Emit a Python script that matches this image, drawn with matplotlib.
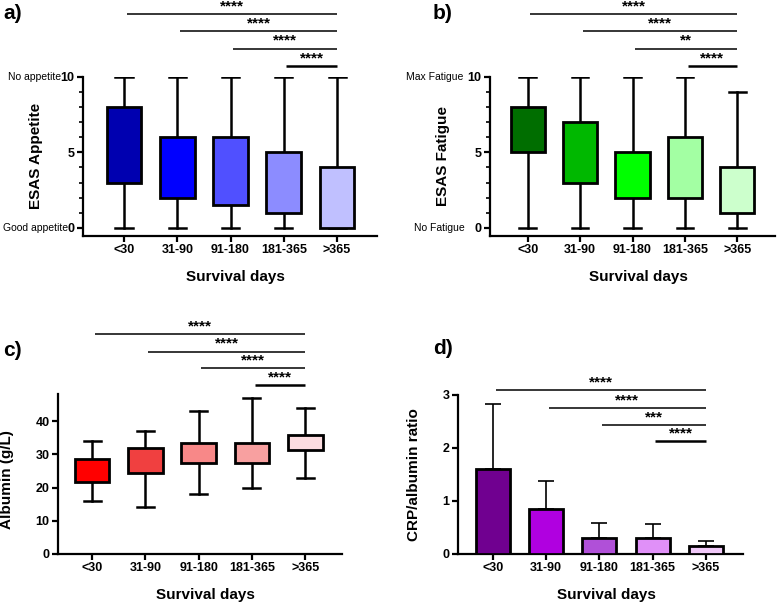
import matplotlib
matplotlib.use("Agg")
import matplotlib.pyplot as plt

plt.rcParams["font.family"] = ["Liberation Sans", "DejaVu Sans"]

groups = ["<30", "31-90", "91-180", "181-365", ">365"]

# a) ESAS appetite (min, q1, median, q3, max)
app_lo = [0, 0, 0, 0, 0]
app_q1 = [3, 2, 1.5, 1, 0]
app_med = [5, 4, 3, 3, 1]
app_q3 = [8, 6, 6, 5, 4]
app_hi = [10, 10, 10, 10, 10]
app_sig = ["****", "****", "****", "****"]   # <30, 31-90, 91-180, 181-365 vs >365
app_colors = ["#0000b0", "#0000ff", "#5050ff", "#8c8cff", "#c0c0ff"]

# b) ESAS fatigue
fat_lo = [0, 0, 0, 0, 0]
fat_q1 = [5, 3, 2, 2, 1]
fat_med = [6, 5, 4, 4, 2]
fat_q3 = [8, 7, 5, 6, 4]
fat_hi = [10, 10, 10, 10, 9]
fat_sig = ["****", "****", "**", "****"]
fat_colors = ["#006e00", "#00b800", "#00ff00", "#a3ffa3", "#ccffcc"]

# c) albumin (g/L)
alb_lo = [16, 14, 18, 20, 23]
alb_q1 = [21.8, 24.3, 27.3, 27.5, 31.3]
alb_med = [24, 27, 30, 31, 34]
alb_q3 = [28.7, 31.8, 33.3, 33.5, 35.8]
alb_hi = [34, 37, 43, 47, 44]
alb_sig = ["****", "****", "****", "****"]
alb_colors = ["#ff0000", "#f04040", "#f88888", "#f8a0a0", "#fcdce0"]

# d) CRP/albumin ratio (mean, SD)
crp_mean = [1.60, 0.84, 0.30, 0.31, 0.16]
crp_sd = [1.22, 0.53, 0.29, 0.25, 0.08]
crp_sig = ["****", "****", "***", "****"]
crp_colors = ["#700090", "#b000e0", "#b050d8", "#e090f8", "#f0c8f8"]

W, H = 777, 604
fig = plt.figure(figsize=(W / 100, H / 100), dpi=100)


def px_axes(x0, x1, y_top, y_bot):
    return fig.add_axes([x0 / W, 1 - y_bot / H, (x1 - x0) / W, (y_bot - y_top) / H])


def style(ax, ylabel, label_x, label_y=0.5, xlab_x=0.52):
    for s in ["top", "right"]:
        ax.spines[s].set_visible(False)
    for s in ["left", "bottom"]:
        ax.spines[s].set_linewidth(1.6)
    ax.tick_params(width=1.6, length=4.5, labelsize=9, pad=1.5)
    ax.set_xticks(range(len(groups)))
    ax.set_xticklabels(groups, fontweight="bold")
    for t in ax.get_yticklabels():
        t.set_fontweight("bold")
    ax.set_xlabel("Survival days", fontsize=11, fontweight="bold")
    ax.set_ylabel(ylabel, fontsize=11, fontweight="bold")
    ax.xaxis.set_label_coords(xlab_x, -0.215)
    ax.yaxis.set_label_coords(label_x, label_y)


def boxes(ax, lo, q1, med, q3, hi, colors):
    stats = [dict(whislo=a, q1=b, med=c, q3=d, whishi=e, fliers=[])
             for a, b, c, d, e in zip(lo, q1, med, q3, hi)]
    bp = ax.bxp(stats, positions=range(len(stats)), widths=0.65, capwidths=0.32,
                patch_artist=True, showfliers=False,
                boxprops=dict(linewidth=2.0, edgecolor="black"),
                medianprops=dict(color="black", linewidth=2.0),
                whiskerprops=dict(color="black", linewidth=1.8),
                capprops=dict(color="black", linewidth=1.8))
    for patch, c in zip(bp["boxes"], colors):
        patch.set_facecolor(c)
        patch.set_zorder(3)


def sig_bars(ax, labels, ys):
    last = len(groups) - 1
    for i, (lab, y) in enumerate(zip(labels, ys)):
        x0 = i + 0.05
        lw = 1.8 if i == len(labels) - 1 else 1.1
        ax.plot([x0, last], [y, y], color="black", lw=lw, clip_on=False,
                solid_capstyle="butt")
        ax.annotate(lab, xy=((x0 + last) / 2, y), xytext=(0, 2.8),
                    textcoords="offset points", ha="center", va="baseline",
                    fontsize=11, fontweight="bold", annotation_clip=False)


# ---- a) appetite
ax = px_axes(83, 377, 76.7, 236)
boxes(ax, app_lo, app_q1, app_med, app_q3, app_hi, app_colors)
ax.set_xlim(-0.77, 4.75)
ax.set_ylim(-0.53, 10)
ax.set_yticks([0, 5, 10])
ax.set_yticks(range(11), minor=True)
ax.tick_params(axis="y", which="minor", length=3, width=1.2)
style(ax, "ESAS Appetite", -0.135)
sig_bars(ax, app_sig, [14.15, 13.0, 11.85, 10.7])
ax.annotate("No appetite", xy=(0, 10), xycoords=("axes fraction", "data"),
            xytext=(-16, 0), textcoords="offset points", ha="right", va="center", fontsize=7.5)
ax.annotate("Good appetite", xy=(0, 0), xycoords=("axes fraction", "data"),
            xytext=(-10.5, 0), textcoords="offset points", ha="right", va="center", fontsize=7.5)

# ---- b) fatigue
ax = px_axes(490, 775, 76.7, 236)
boxes(ax, fat_lo, fat_q1, fat_med, fat_q3, fat_hi, fat_colors)
ax.set_xlim(-0.72, 4.72)
ax.set_ylim(-0.53, 10)
ax.set_yticks([0, 5, 10])
ax.set_yticks(range(11), minor=True)
ax.tick_params(axis="y", which="minor", length=3, width=1.2)
style(ax, "ESAS Fatigue", -0.142)
sig_bars(ax, fat_sig, [14.15, 13.0, 11.85, 10.7])
ax.annotate("Max Fatigue", xy=(0, 10), xycoords=("axes fraction", "data"),
            xytext=(-19.5, 0), textcoords="offset points", ha="right", va="center", fontsize=7.5)
ax.annotate("No Fatigue", xy=(0, 0), xycoords=("axes fraction", "data"),
            xytext=(-18, 0), textcoords="offset points", ha="right", va="center", fontsize=7.5)

# ---- c) albumin
ax = px_axes(58, 342, 394.4, 554)
boxes(ax, alb_lo, alb_q1, alb_med, alb_q3, alb_hi, alb_colors)
ax.set_xlim(-0.64, 4.69)
ax.set_ylim(0, 48)
ax.set_yticks([0, 10, 20, 30, 40])
style(ax, "Albumin (g/L)", -0.155, 0.467)
sig_bars(ax, alb_sig, [66.2, 60.8, 55.9, 50.8])

# ---- d) CRP/albumin ratio
ax = px_axes(458, 743, 394.7, 554)
ax.bar(range(len(groups)), crp_mean, width=0.64, color=crp_colors,
       edgecolor="black", linewidth=2.0, zorder=3)
ax.errorbar(range(len(groups)), crp_mean, yerr=[[0] * len(crp_sd), crp_sd],
            fmt="none", ecolor="black", elinewidth=1.2, capsize=6, capthick=1.2, zorder=2)
ax.set_xlim(-0.66, 4.7)
ax.set_ylim(0, 3)
ax.set_yticks([0, 1, 2, 3])
style(ax, "CRP/albumin ratio", -0.13)
sig_bars(ax, crp_sig, [3.09, 2.75, 2.42, 2.12])

# panel letters
for txt, x, y in [("a)", 3, 4), ("b)", 433, 4), ("c)", 3, 341), ("d)", 433, 339)]:
    fig.text(x / W, 1 - y / H, txt, fontsize=15, fontweight="bold", ha="left", va="top")

fig.savefig("out.png", dpi=100)
